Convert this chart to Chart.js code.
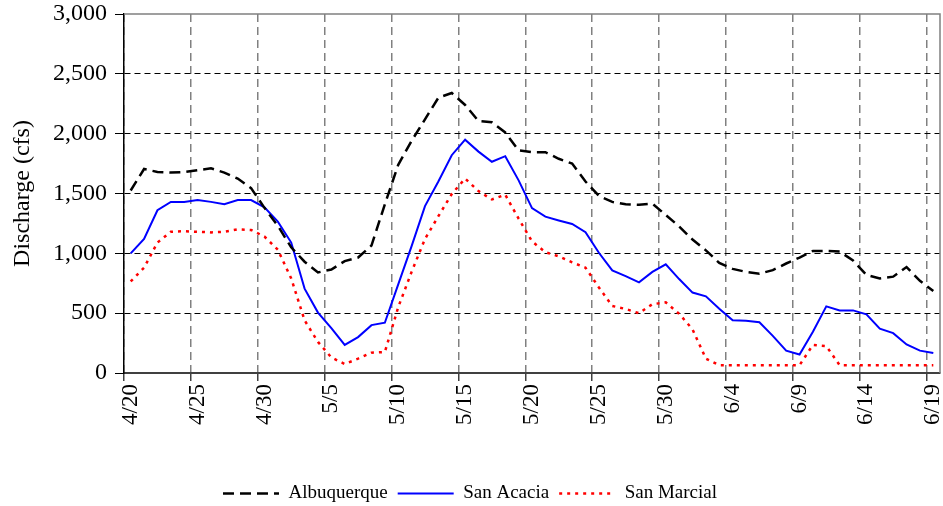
<!DOCTYPE html>
<html>
<head>
<meta charset="utf-8">
<script src="https://cdn.jsdelivr.net/npm/chart.js@4"></script>
<style>
  html, body { margin: 0; padding: 0; background: #fff; }
  #wrap { width: 943px; height: 506px; position: relative; }
</style>
</head>
<body>
<div id="wrap"><canvas id="c"></canvas></div>
<script>
// ---- data ----
const dates = [
  '4/20','4/21','4/22','4/23','4/24','4/25','4/26','4/27','4/28','4/29','4/30',
  '5/1','5/2','5/3','5/4','5/5','5/6','5/7','5/8','5/9','5/10','5/11','5/12','5/13','5/14','5/15',
  '5/16','5/17','5/18','5/19','5/20','5/21','5/22','5/23','5/24','5/25','5/26','5/27','5/28','5/29','5/30','5/31',
  '6/1','6/2','6/3','6/4','6/5','6/6','6/7','6/8','6/9','6/10','6/11','6/12','6/13','6/14','6/15','6/16','6/17','6/18','6/19'
];
const albuquerque = [
  1525, 1705, 1680, 1675, 1680, 1695, 1710, 1675, 1625, 1545, 1380,
  1230, 1050, 930, 840, 865, 935, 965, 1065, 1410, 1740,
  1940, 2120, 2300, 2340, 2240, 2105, 2095, 2010, 1860, 1845,
  1845, 1790, 1750, 1600, 1480, 1430, 1410, 1405, 1415, 1320,
  1225, 1115, 1025, 920, 870, 845, 830, 860, 915, 965,
  1020, 1020, 1015, 940, 820, 790, 805, 885, 770, 685
];
const sanAcacia = [
  1000, 1120, 1360, 1430, 1430, 1445, 1430, 1410, 1445, 1445, 1385,
  1265, 1090, 705, 505, 375, 235, 300, 400, 420, 740,
  1060, 1395, 1600, 1820, 1950, 1850, 1765, 1812, 1610, 1378,
  1307, 1275, 1245, 1176, 1005, 858, 810, 758, 845, 908,
  785, 672, 641, 537, 440, 437, 424, 310, 187, 155,
  345, 557, 523, 523, 490, 370, 333, 238, 187, 168
];
const sanMarcial = [
  765, 880, 1090, 1180, 1185, 1180, 1175, 1180, 1200, 1195, 1140,
  1030, 790, 440, 260, 130, 75, 120, 170, 175, 550,
  845, 1120, 1310, 1495, 1625, 1520, 1450, 1490, 1290, 1100,
  1010, 975, 925, 880, 715, 560, 535, 500, 575, 590,
  495, 365, 120, 65, 65, 65, 65, 65, 65, 65,
  235, 225, 65, 65, 65, 65, 65, 65, 65, 65
];
const seriesNames = ['Albuquerque', 'San Acacia', 'San Marcial'];
const yMin = 0, yMax = 3000, yStep = 500;
const labelEvery = 5;

const FONT = "'Times New Roman', 'Liberation Serif', serif";

const framePlugin = {
  id: 'frame',
  beforeDatasetsDraw(chart) {
    const {ctx, chartArea: a} = chart;
    ctx.save();
    ctx.strokeStyle = '#808080';
    ctx.lineWidth = 1.5;
    ctx.setLineDash([]);
    ctx.beginPath();
    ctx.moveTo(a.left, a.top);
    ctx.lineTo(a.right, a.top);
    ctx.lineTo(a.right, a.bottom);
    ctx.stroke();
    ctx.restore();
  }
};

new Chart(document.getElementById('c'), {
  type: 'line',
  data: {
    labels: dates,
    datasets: [
      { label: seriesNames[0], data: albuquerque, borderColor: '#000000', backgroundColor: '#000000',
        borderWidth: 2.5, borderDash: [11, 6], pointRadius: 0, tension: 0, fill: false },
      { label: seriesNames[1], data: sanAcacia, borderColor: '#0000ff', backgroundColor: '#0000ff',
        borderWidth: 2, pointRadius: 0, tension: 0, fill: false },
      { label: seriesNames[2], data: sanMarcial, borderColor: '#ff0000', backgroundColor: '#ff0000',
        borderWidth: 2.5, borderDash: [3, 5], pointRadius: 0, tension: 0, fill: false }
    ]
  },
  options: {
    responsive: true,
    maintainAspectRatio: false,
    animation: false,
    layout: { padding: { left: 0, right: 3, top: 14, bottom: -7 } },
    plugins: {
      title: { display: false },
      tooltip: { enabled: false },
      legend: {
        display: true,
        position: 'bottom',
        labels: {
          usePointStyle: true,
          pointStyleWidth: 56,
          padding: 10,
          color: '#000',
          font: { family: FONT, size: 19 },
          generateLabels(chart) {
            return chart.data.datasets.map((ds, i) => ({
              text: ds.label,
              fillStyle: ds.borderColor,
              strokeStyle: ds.borderColor,
              fontColor: '#000',
              lineWidth: ds.borderWidth,
              lineDash: ds.borderDash || [],
              lineCap: 'butt',
              pointStyle: 'line',
              rotation: 0,
              hidden: false,
              datasetIndex: i
            }));
          }
        }
      }
    },
    scales: {
      x: {
        type: 'category',
        offset: true,
        afterFit(s) { s.height = 101; s.paddingLeft = 0; s.paddingRight = 0; },
        grid: {
          offset: true,
          drawOnChartArea: true,
          lineWidth: 1.5,
          color: (c) => (c.index !== undefined && c.index % labelEvery === 0) ? '#808080' : 'rgba(0,0,0,0)',
          tickColor: (c) => (c.index !== undefined && c.index % labelEvery === 0) ? '#404040' : 'rgba(0,0,0,0)',
          tickLength: 8,
          tickWidth: 1.5
        },
        border: { display: true, color: '#404040', width: 2, dash: [8, 5] },
        ticks: {
          autoSkip: false,
          maxRotation: 90,
          minRotation: 90,
          padding: 3,
          color: '#000',
          font: { family: FONT, size: 23 },
          callback(v, i) { return i % labelEvery === 0 ? dates[i] : ''; }
        }
      },
      y: {
        min: yMin,
        max: yMax,
        afterFit(s) { s.width = 124; s.paddingTop = 0; s.paddingBottom = 0; },
        title: {
          display: true,
          text: 'Discharge (cfs)',
          color: '#000',
          font: { family: FONT, size: 24 },
          padding: { top: 8, bottom: 0 }
        },
        grid: {
          lineWidth: 1,
          color: (c) => (c.tick && (c.tick.value === yMax || c.tick.value === yMin)) ? 'rgba(0,0,0,0)' : '#000000',
          tickColor: '#000000',
          tickLength: 9,
          tickWidth: 1
        },
        border: { display: true, color: '#000000', width: 1.5, dash: [6, 4] },
        ticks: {
          stepSize: yStep,
          padding: 8,
          color: '#000',
          font: { family: FONT, size: 24 },
          callback(v) { return Number(v).toLocaleString('en-US'); }
        }
      }
    }
  },
  plugins: [framePlugin]
});
</script>
</body>
</html>
